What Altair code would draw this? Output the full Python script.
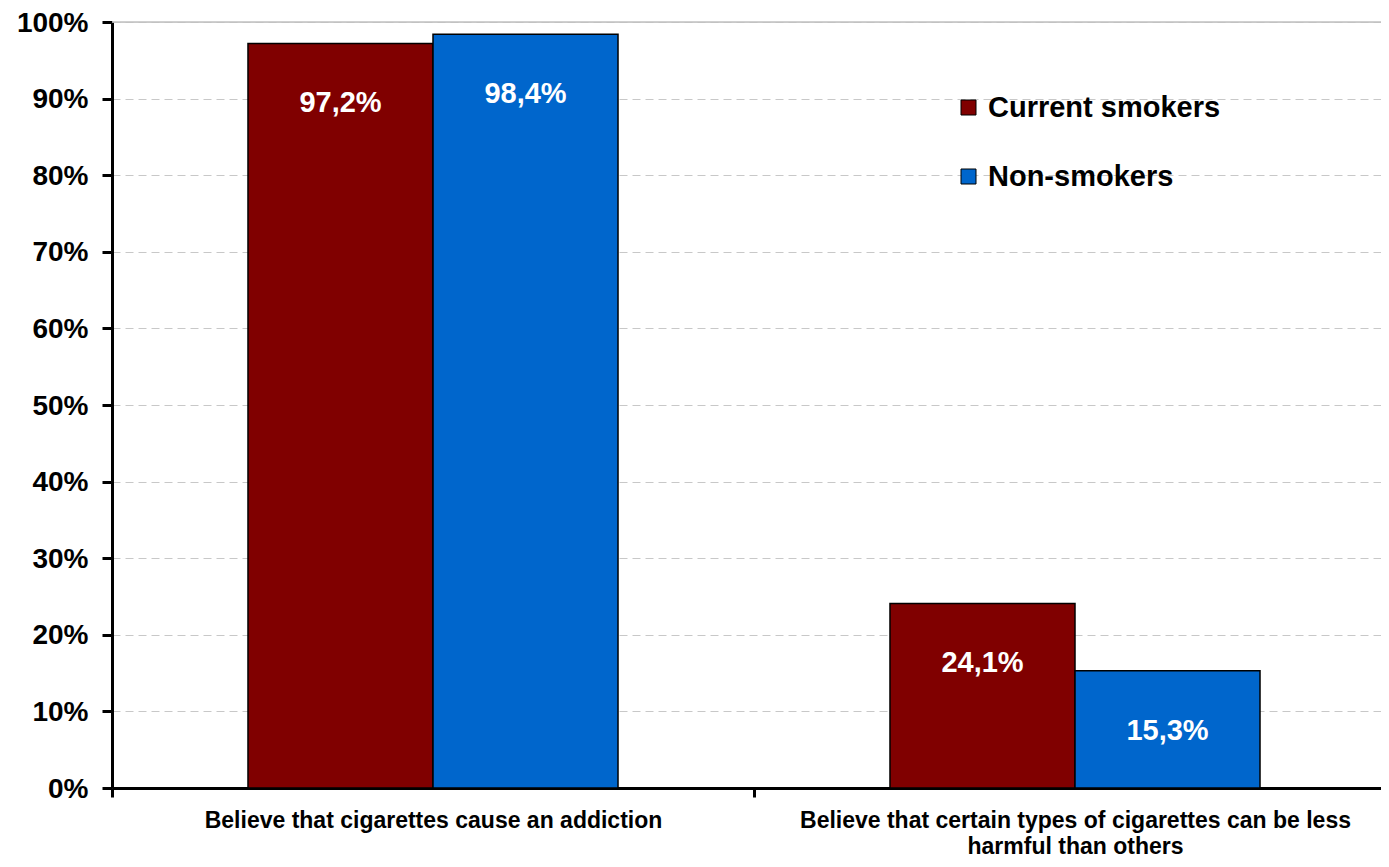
import altair as alt
import pandas as pd

categories = [
    "Believe that cigarettes cause an addiction",
    "Believe that certain types of cigarettes can be less harmful than others",
]
label_lines = [
    ["Believe that cigarettes cause an addiction"],
    ["Believe that certain types of cigarettes can be less", "harmful than others"],
]
groups = ["Current smokers", "Non-smokers"]
current_smokers = [0.972, 0.241]
non_smokers = [0.984, 0.153]
value_labels_current = ["97,2%", "24,1%"]
value_labels_non = ["98,4%", "15,3%"]
y_ticks = [0, 0.1, 0.2, 0.3, 0.4, 0.5, 0.6, 0.7, 0.8, 0.9, 1.0]
colors = ["#800000", "#0066CC"]

rows = []
for i, c in enumerate(categories):
    rows.append({"cat": c, "group": groups[0], "value": current_smokers[i], "label": value_labels_current[i]})
    rows.append({"cat": c, "group": groups[1], "value": non_smokers[i], "label": value_labels_non[i]})
df = pd.DataFrame(rows)

FONT = "Liberation Sans"

expr_parts = []
for c, lines in zip(categories, label_lines):
    arr = "[" + ",".join("'" + l + "'" for l in lines) + "]"
    expr_parts.append(f"datum.value == '{c}' ? {arr} : ")
label_expr = "".join(expr_parts) + "datum.label"

x_enc = alt.X(
    "cat:N",
    sort=categories,
    title=None,
    scale=alt.Scale(range=[0, 1284], paddingInner=0, paddingOuter=0),
    axis=alt.Axis(
        labelAngle=0,
        labelExpr=label_expr,
        labelFont=FONT,
        labelFontWeight="bold",
        labelFontSize=23,
        labelColor="black",
        labelLineHeight=26,
        labelPadding=12,
        labelLimit=1000,
        tickBand="extent",
        tickSize=9,
        tickWidth=3,
        tickColor="black",
        domainColor="black",
        domainWidth=3,
        grid=False,
    ),
)
xoff = alt.XOffset("group:N", sort=groups, scale=alt.Scale(paddingOuter=0.735, paddingInner=0))
y_enc = alt.Y(
    "value:Q",
    title=None,
    scale=alt.Scale(domain=[0, 1], nice=False),
    axis=alt.Axis(
        values=y_ticks,
        format=".0%",
        labelFont=FONT,
        labelFontWeight="bold",
        labelFontSize=28,
        labelColor="black",
        labelPadding=14,
        labelOffset=1,
        tickSize=10,
        tickWidth=3,
        tickColor="black",
        domainColor="black",
        domainWidth=3,
        gridColor="#c8c8c8",
        gridDash=[8, 5],
        gridWidth=1,
    ),
)

base = alt.Chart(df)

top_rule = alt.Chart(pd.DataFrame({"top": [1.0]})).mark_rule(color="#c0c0c0", strokeWidth=1.5).encode(
    y=alt.Y("top:Q", scale=alt.Scale(domain=[0, 1], nice=False))
)

bars = base.mark_bar(stroke="black", strokeWidth=1.5).encode(
    x=x_enc,
    xOffset=xoff,
    y=y_enc,
    color=alt.Color(
        "group:N",
        sort=groups,
        scale=alt.Scale(domain=groups, range=colors),
        legend=alt.Legend(
            title=None,
            orient="none",
            legendX=842,
            legendY=71,
            symbolType="square",
            symbolSize=225,
            symbolStrokeColor="black",
            symbolStrokeWidth=1,
            labelFont=FONT,
            labelFontWeight="bold",
            labelFontSize=29,
            labelColor="black",
            labelOffset=5,
            rowPadding=39,
            labelLimit=400,
        ),
    ),
)

texts = base.mark_text(
    color="white", font=FONT, fontWeight="bold", fontSize=29, baseline="middle", dy=60
).encode(
    x=alt.X("cat:N", sort=categories),
    xOffset=alt.XOffset("group:N", sort=groups),
    y=alt.Y("value:Q"),
    text="label:N",
)

chart = (
    alt.layer(top_rule, bars, texts)
    .properties(
        width=1269,
        height=766,
        padding={"left": 104, "top": 14, "right": 0, "bottom": 71},
        autosize=alt.AutoSizeParams(type="none"),
    )
    .configure_view(stroke=None)
    .configure(background="white")
)

chart.save("out.html", embed_options={"renderer": "svg", "actions": False})
